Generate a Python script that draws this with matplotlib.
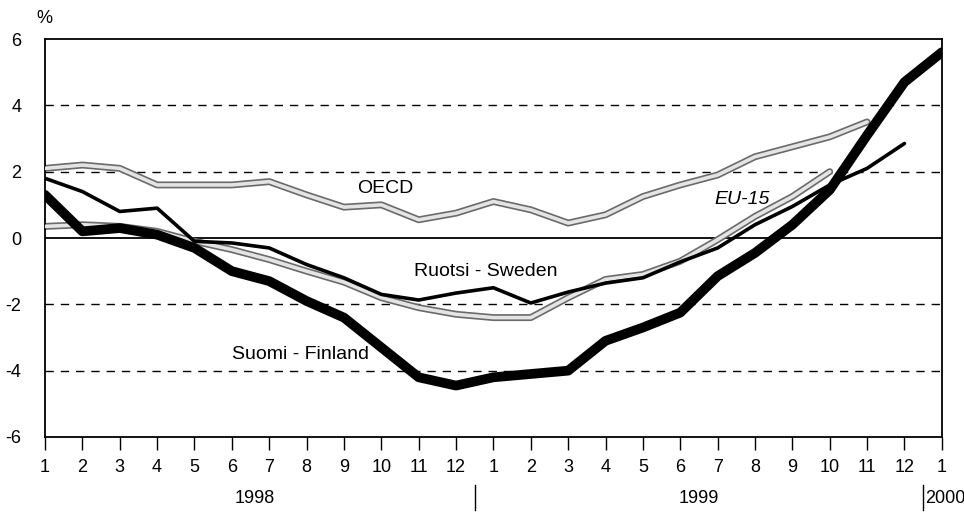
import numpy as np
import matplotlib
matplotlib.use("Agg")
import matplotlib.pyplot as plt

plt.rcParams['font.family'] = ['Liberation Sans', 'DejaVu Sans']

months = [1, 2, 3, 4, 5, 6, 7, 8, 9, 10, 11, 12,
          1, 2, 3, 4, 5, 6, 7, 8, 9, 10, 11, 12, 1]
years = ["1998", "1999", "2000"]

finland = [1.3, 0.2, 0.3, 0.1, -0.3, -1.0, -1.3, -1.9, -2.4, -3.3, -4.2, -4.45,
           -4.2, -4.1, -4.0, -3.1, -2.7, -2.25, -1.15, -0.45, 0.4, 1.45, 3.1, 4.7, 5.6]
sweden = [1.8, 1.4, 0.8, 0.9, -0.1, -0.15, -0.3, -0.8, -1.2, -1.7, -1.87, -1.66,
          -1.5, -1.96, -1.63, -1.36, -1.2, -0.72, -0.3, 0.4, 0.95, 1.6, 2.1, 2.85]
oecd = [2.1, 2.2, 2.1, 1.6, 1.6, 1.6, 1.7, 1.3, 0.93, 1.0, 0.55, 0.75,
        1.1, 0.85, 0.45, 0.7, 1.25, 1.6, 1.9, 2.45, 2.75, 3.05, 3.5]
eu15 = [0.35, 0.4, 0.35, 0.2, -0.1, -0.35, -0.65, -1.0, -1.33, -1.8, -2.1, -2.3,
        -2.4, -2.4, -1.8, -1.25, -1.1, -0.7, -0.05, 0.65, 1.25, 2.0]

fig = plt.figure(figsize=(9.64, 5.12), dpi=100)
ax = fig.add_axes([0.0467, 0.1465, 0.9303, 0.7773])

x = np.arange(len(months))

# grid and zero line
for g in [-4, -2, 2, 4]:
    ax.axhline(g, color="black", lw=1, ls=(0, (6, 5)), zorder=1)
ax.axhline(0, color="black", lw=1.3, zorder=1)

# grey double lines
for s in [oecd, eu15]:
    xs = x[:len(s)]
    ax.plot(xs, s, color="#6a6a6a", lw=5.0, solid_capstyle="round", zorder=2)
    ax.plot(xs, s, color="#e4e4e4", lw=2.6, solid_capstyle="round", zorder=3)

ax.plot(x[:len(sweden)], sweden, color="black", lw=2.6, solid_capstyle="round", zorder=4)
ax.plot(x, finland, color="black", lw=7, solid_capstyle="round", zorder=5)

ax.text(9.1, 1.5, "OECD", fontsize=14, ha="center", va="center")
ax.text(18.65, 1.15, "EU-15", fontsize=14, style="italic", ha="center", va="center")
ax.text(11.8, -1.0, "Ruotsi - Sweden", fontsize=14, ha="center", va="center")
ax.text(6.85, -3.5, "Suomi - Finland", fontsize=14, ha="center", va="center")

ax.set_xlim(0, 24)
ax.set_ylim(-6, 6)
ax.set_xticks(x)
ax.set_xticklabels([str(m) for m in months], fontsize=13)
ax.set_yticks([-6, -4, -2, 0, 2, 4, 6])
ax.set_yticklabels(["-6", "-4", "-2", "0", "2", "4", "6"], fontsize=13)
ax.tick_params(axis="x", direction="out", length=9, width=1, pad=7)
ax.tick_params(axis="y", length=0, pad=17)
for sp in ax.spines.values():
    sp.set_linewidth(1.3)

ax.text(-0.01, 1.03, "%", transform=ax.transAxes, fontsize=13, ha="left", va="bottom")

# year labels below the month axis
ax.text(5.6, -7.85, years[0], fontsize=13, ha="center", va="center", clip_on=False)
ax.text(17.5, -7.85, years[1], fontsize=13, ha="center", va="center", clip_on=False)
ax.text(23.55, -7.85, years[2], fontsize=13, ha="left", va="center", clip_on=False)
for sep in [11.5, 23.5]:
    ax.plot([sep, sep], [-7.45, -8.2], color="black", lw=1, clip_on=False)

fig.savefig("out.png", dpi=100)
